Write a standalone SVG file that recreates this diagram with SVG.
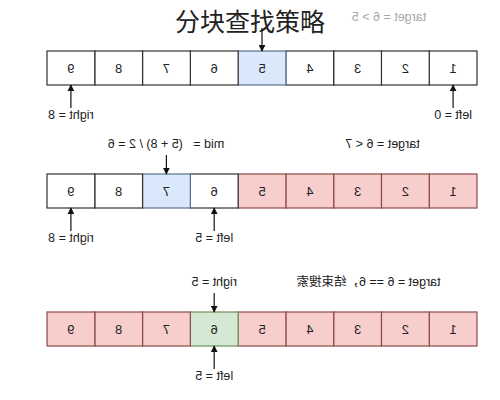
<svg xmlns="http://www.w3.org/2000/svg" width="500" height="400" viewBox="0 0 500 400">
<defs>
<marker id="ah" viewBox="0 0 10 10" refX="9" refY="5" markerWidth="7" markerHeight="7" markerUnits="userSpaceOnUse" orient="auto">
<path d="M0,0 L10,5 L0,10 z" fill="#111"/>
</marker>
<style>
.w{fill:#ffffff;stroke:#333;stroke-width:1.2}
.b{fill:#dae8fc;stroke:#5a6f8f;stroke-width:1.2}
.r{fill:#f8cecc;stroke:#8a4a48;stroke-width:1.2}
.g{fill:#d5e8d4;stroke:#6f8f5e;stroke-width:1.2}
.n{font-family:"Liberation Sans",Arial,sans-serif;font-size:13px;fill:#222;text-anchor:middle}
.l{font-family:"Liberation Sans","Noto Sans CJK SC",Arial,sans-serif;font-size:12.5px;fill:#222;text-anchor:middle;white-space:pre}
.c line{stroke:#111;stroke-width:1.2;marker-end:url(#ah)}
</style>
</defs>
<rect width="500" height="400" fill="#fff"/>
<g transform="translate(500,0) scale(-1,1)">
<g id="row1">
<g id="r1c1"><rect class="w" x="23" y="51" width="47.78" height="34"/><text class="n" x="46.9" y="73">1</text></g>
<g id="r1c2"><rect class="w" x="70.78" y="51" width="47.78" height="34"/><text class="n" x="94.7" y="73">2</text></g>
<g id="r1c3"><rect class="w" x="118.56" y="51" width="47.78" height="34"/><text class="n" x="142.4" y="73">3</text></g>
<g id="r1c4"><rect class="w" x="166.33" y="51" width="47.78" height="34"/><text class="n" x="190.2" y="73">4</text></g>
<g id="r1c5"><rect class="b" x="214.11" y="51" width="47.78" height="34"/><text class="n" x="238" y="73">5</text></g>
<g id="r1c6"><rect class="w" x="261.89" y="51" width="47.78" height="34"/><text class="n" x="285.8" y="73">6</text></g>
<g id="r1c7"><rect class="w" x="309.67" y="51" width="47.78" height="34"/><text class="n" x="333.6" y="73">7</text></g>
<g id="r1c8"><rect class="w" x="357.44" y="51" width="47.78" height="34"/><text class="n" x="381.3" y="73">8</text></g>
<g id="r1c9"><rect class="w" x="405.22" y="51" width="47.78" height="34"/><text class="n" x="429.1" y="73">9</text></g>
</g>
<g id="row2">
<g id="r2c1"><rect class="r" x="23" y="174" width="47.78" height="34"/><text class="n" x="46.9" y="196">1</text></g>
<g id="r2c2"><rect class="r" x="70.78" y="174" width="47.78" height="34"/><text class="n" x="94.7" y="196">2</text></g>
<g id="r2c3"><rect class="r" x="118.56" y="174" width="47.78" height="34"/><text class="n" x="142.4" y="196">3</text></g>
<g id="r2c4"><rect class="r" x="166.33" y="174" width="47.78" height="34"/><text class="n" x="190.2" y="196">4</text></g>
<g id="r2c5"><rect class="r" x="214.11" y="174" width="47.78" height="34"/><text class="n" x="238" y="196">5</text></g>
<g id="r2c6"><rect class="w" x="261.89" y="174" width="47.78" height="34"/><text class="n" x="285.8" y="196">6</text></g>
<g id="r2c7"><rect class="b" x="309.67" y="174" width="47.78" height="34"/><text class="n" x="333.6" y="196">7</text></g>
<g id="r2c8"><rect class="w" x="357.44" y="174" width="47.78" height="34"/><text class="n" x="381.3" y="196">8</text></g>
<g id="r2c9"><rect class="w" x="405.22" y="174" width="47.78" height="34"/><text class="n" x="429.1" y="196">9</text></g>
</g>
<g id="row3">
<g id="r3c1"><rect class="r" x="23" y="312" width="47.78" height="34"/><text class="n" x="46.9" y="334">1</text></g>
<g id="r3c2"><rect class="r" x="70.78" y="312" width="47.78" height="34"/><text class="n" x="94.7" y="334">2</text></g>
<g id="r3c3"><rect class="r" x="118.56" y="312" width="47.78" height="34"/><text class="n" x="142.4" y="334">3</text></g>
<g id="r3c4"><rect class="r" x="166.33" y="312" width="47.78" height="34"/><text class="n" x="190.2" y="334">4</text></g>
<g id="r3c5"><rect class="r" x="214.11" y="312" width="47.78" height="34"/><text class="n" x="238" y="334">5</text></g>
<g id="r3c6"><rect class="g" x="261.89" y="312" width="47.78" height="34"/><text class="n" x="285.8" y="334">6</text></g>
<g id="r3c7"><rect class="r" x="309.67" y="312" width="47.78" height="34"/><text class="n" x="333.6" y="334">7</text></g>
<g id="r3c8"><rect class="r" x="357.44" y="312" width="47.78" height="34"/><text class="n" x="381.3" y="334">8</text></g>
<g id="r3c9"><rect class="r" x="405.22" y="312" width="47.78" height="34"/><text class="n" x="429.1" y="334">9</text></g>
</g>
<g id="labels">
<text id="t1" class="l" x="111" y="21" style="fill:#a8a8a8">target = 6 &gt; 5</text>
<text id="l1r" class="l" x="429.1" y="119">right = 8</text>
<text id="l1l" class="l" x="46.9" y="119">left = 0</text>
<text id="t2" class="l" x="117.5" y="148">target = 6 &lt; 7</text>
<text id="m2" class="l" x="334" y="148">mid =   (5 + 8) / 2 = 6</text>
<text id="l2r" class="l" x="429.1" y="242">right = 8</text>
<text id="l2l" class="l" x="285.8" y="242">left = 5</text>
<text id="t3" class="l" x="131.5" y="286">target = 6 == 6，结束搜索</text>
<text id="l3r" class="l" x="285.8" y="286">right = 5</text>
<text id="l3l" class="l" x="285.8" y="380">left = 5</text>
</g>
<g id="connectors" class="c">
<line x1="238" y1="28" x2="238" y2="51"/>
<line x1="429.1" y1="108" x2="429.1" y2="85"/>
<line x1="46.9" y1="108" x2="46.9" y2="85"/>
<line x1="333.6" y1="155" x2="333.6" y2="174"/>
<line x1="429.1" y1="231" x2="429.1" y2="208"/>
<line x1="285.8" y1="231" x2="285.8" y2="208"/>
<line x1="285.8" y1="293" x2="285.8" y2="312"/>
<line x1="285.8" y1="369" x2="285.8" y2="346"/>
</g>
</g>
<text id="title" x="250" y="31" style="font-family:'Noto Sans CJK SC',sans-serif;font-size:25px;fill:#222;text-anchor:middle">分块查找策略</text>
</svg>
